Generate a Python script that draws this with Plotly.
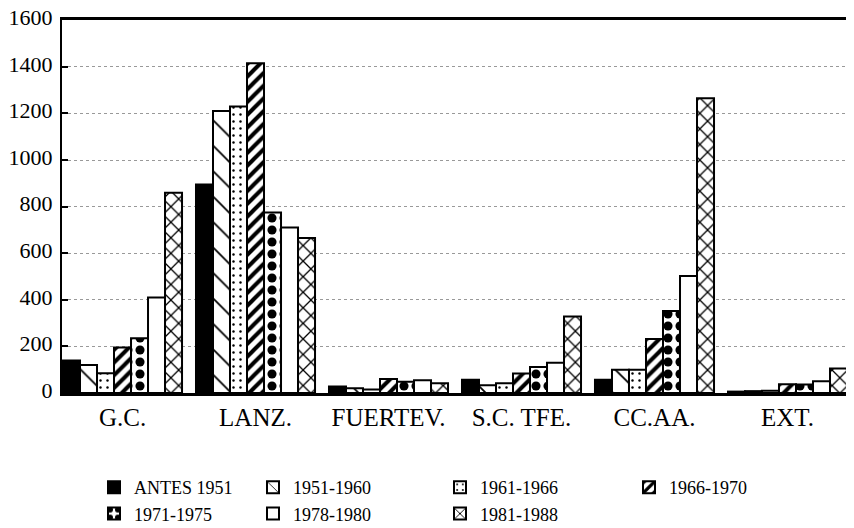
import plotly.graph_objects as go

categories = ["G.C.", "LANZ.", "FUERTEV.", "S.C. TFE.", "CC.AA.", "EXT."]
series_names = ["ANTES 1951", "1951-1960", "1961-1966", "1966-1970",
                "1971-1975", "1978-1980", "1981-1988"]

antes_1951 = [140, 895, 28, 57, 57, 6]
p1951_1960 = [120, 1210, 20, 33, 100, 8]
p1961_1966 = [85, 1230, 15, 42, 100, 10]
p1966_1970 = [195, 1415, 60, 84, 232, 38]
p1971_1975 = [235, 775, 48, 112, 352, 36]
p1978_1980 = [410, 710, 55, 130, 502, 50]
p1981_1988 = [860, 665, 42, 328, 1265, 105]

y_ticks = [0, 200, 400, 600, 800, 1000, 1200, 1400, 1600]

values = [antes_1951, p1951_1960, p1961_1966, p1966_1970,
          p1971_1975, p1978_1980, p1981_1988]

styles = [
    dict(color="black"),
    dict(color="white", pattern=dict(shape="\\", fgcolor="black", bgcolor="white", size=18, solidity=0.1, fgopacity=1)),
    dict(color="white", pattern=dict(shape=".", fgcolor="black", bgcolor="white", size=7, solidity=0.1, fgopacity=1)),
    dict(color="white", pattern=dict(shape="/", fgcolor="black", bgcolor="white", size=9, solidity=0.45, fgopacity=1)),
    dict(color="white", pattern=dict(shape=".", fgcolor="black", bgcolor="white", size=12, solidity=0.45, fgopacity=1)),
    dict(color="white"),
    dict(color="white", pattern=dict(shape="x", fgcolor="black", bgcolor="white", size=11, solidity=0.22, fgopacity=1)),
]
legend_ids = ["legend", "legend2", "legend3", "legend4", "legend", "legend2", "legend3"]

FONT = "Liberation Serif"

# plot area in figure pixels: x 54..844, y 12..385
PL, PW, PT, PB = 54, 790, 12, 385
PH = PB - PT

fig = go.Figure()
for name, vals, st, lg in zip(series_names, values, styles, legend_ids):
    marker = dict(st)
    marker["line"] = dict(color="black", width=2)
    fig.add_trace(go.Bar(x=categories, y=vals, name=name, marker=marker, legend=lg))

def leg(xpx):
    return dict(orientation="v", x=(xpx - PL) / PW, xanchor="left",
                y=(PB - 461) / PH, yanchor="top",
                font=dict(family=FONT, size=18, color="black"),
                bgcolor="rgba(0,0,0,0)", itemwidth=30, tracegroupgap=0)

fig.update_layout(
    width=854, height=528,
    margin=dict(l=PL, r=854 - PL - PW, t=PT, b=528 - PB, autoexpand=False),
    paper_bgcolor="white", plot_bgcolor="white",
    barmode="group", bargap=0.105, bargroupgap=0,
    font=dict(family=FONT, color="black"),
    showlegend=True,
    legend=leg(86), legend2=leg(245), legend3=leg(432), legend4=leg(621),
    xaxis=dict(range=[-0.455, 5.485], showline=True, linecolor="black", linewidth=3,
               mirror=True, ticks="", showgrid=False, automargin=False,
               tickfont=dict(family=FONT, size=25, color="black"),
               ticklabelstandoff=0),
    yaxis=dict(range=[0, 1601], tickvals=y_ticks, ticks="inside", ticklen=6,
               tickcolor="black", tickwidth=1.5, automargin=False,
               ticklabeloverflow="allow", ticklabelshift=-3,
               showline=True, linecolor="black", linewidth=2, mirror=True,
               showgrid=True, gridcolor="#999", griddash="dot", gridwidth=1,
               tickfont=dict(family=FONT, size=22, color="black"),
               ticklabelstandoff=3, zeroline=False),
)

fig.write_html("out.html")
